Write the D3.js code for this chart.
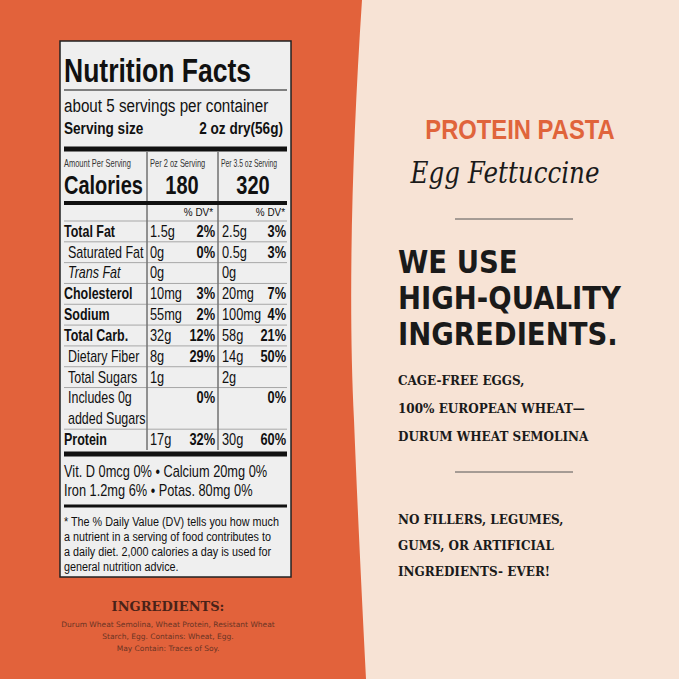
<!DOCTYPE html><html><head><meta charset="utf-8"><script src="https://cdn.jsdelivr.net/npm/d3@7"></script>
<style>body{margin:0}svg{display:block}</style></head><body><svg width="679" height="679"></svg><script>
const nutrients=["Total Fat","Saturated Fat","Trans Fat","Cholesterol","Sodium","Total Carb.","Dietary Fiber","Total Sugars","Includes 0g","added Sugars","Protein"];
const bold=[1,0,0,1,1,1,0,0,0,0,1];
const indent=[0,1,1,0,0,0,1,1,1,1,0];
const amt2=["1.5g","0g","0g","10mg","55mg","32g","8g","1g","","","17g"];
const dv2=["2%","0%","","3%","2%","12%","29%","","0%","","32%"];
const amt35=["2.5g","0.5g","0g","20mg","100mg","58g","14g","2g","","","30g"];
const dv35=["3%","3%","","7%","4%","21%","50%","","0%","","60%"];
const calories=[180,320];
const footRows=["Vit. D 0mcg 0% • Calcium 20mg 0%","Iron 1.2mg 6%   •   Potas. 80mg 0%"];
const note=["* The % Daily Value (DV) tells you how much","a nutrient in a serving of food contributes to","a daily diet. 2,000 calories a day is used for","general nutrition advice."];
const claims=["WE USE","HIGH-QUALITY","INGREDIENTS."];
const sub1=["CAGE-FREE EGGS,","100% EUROPEAN WHEAT—","DURUM WHEAT SEMOLINA"];
const sub2=["NO FILLERS, LEGUMES,","GUMS, OR ARTIFICIAL","INGREDIENTS- EVER!"];
const svg=d3.select("svg");
svg.append("rect").attr("width",679).attr("height",679).attr("fill","#f7e3d5");
svg.append("path").attr("d","M0,0 L362,0 C352,150 348,300 354,420 C358,520 362,600 366,679 L0,679Z").attr("fill","#e2623b");
const N="'Liberation Sans',sans-serif";
svg.append("rect").attr("x",60).attr("y",41).attr("width",231).attr("height",536).attr("fill","#efefef").attr("stroke","#222").attr("stroke-width",1.5);
const t=(x,y,s,txt,o={})=>{const e=svg.append("text").attr("font-family",o.f||N).attr("font-size",s).attr("font-weight",o.w||"normal").attr("font-style",o.i||"normal").attr("text-anchor",o.a||"start").attr("fill",o.c||"#111").text(txt);
 const sx=o.sx||(o.f?1:0.8);e.attr("transform",`translate(${x},${y}) scale(${sx},1)`);return e;};
const hl=(y,w,x1=64,x2=287,c="#111")=>svg.append("line").attr("x1",x1).attr("x2",x2).attr("y1",y).attr("y2",y).attr("stroke",c).attr("stroke-width",w);
t(64,82,34,"Nutrition Facts",{w:"bold",sx:0.78});
hl(90,1);
t(64,112,19,"about 5 servings per container");
t(64,134,17,"Serving size",{w:"bold"});
t(283,134,17,"2 oz dry(56g)",{w:"bold",a:"end"});
hl(149,5);
const y=d3.scaleBand().domain(d3.range(nutrients.length)).range([221,450]);
svg.append("line").attr("x1",147).attr("x2",147).attr("y1",152).attr("y2",450).attr("stroke","#333");
svg.append("line").attr("x1",218).attr("x2",218).attr("y1",152).attr("y2",450).attr("stroke","#333");
t(64,167,11,"Amount Per Serving",{c:"#333",sx:0.68});t(150,167,11,"Per 2 oz Serving",{c:"#333",sx:0.68});t(221,167,11,"Per 3.5 oz Serving",{c:"#333",sx:0.62});
t(64,194,25,"Calories",{w:"bold"});
calories.forEach((c,i)=>t(i?253:182,194,25,c,{w:"bold",a:"middle"}));
hl(203,4);
t(213,216,11,"% DV*",{a:"end",sx:0.9});t(285,216,11,"% DV*",{a:"end",sx:0.9});
hl(221,0.6,64,287,"#777");
nutrients.forEach((n,i)=>{const yb=y(i)+y.bandwidth()-5;
 t(64+indent[i]*4,yb,16,n,{w:bold[i]?"bold":"normal",i:i==2?"italic":"normal",sx:0.78});
 t(150,yb,16,amt2[i]);t(215,yb,16,dv2[i],{w:"bold",a:"end"});
 t(222,yb,16,amt35[i]);t(286,yb,16,dv35[i],{w:"bold",a:"end"});
 if(i<10&&i!=8)hl(y(i)+y.bandwidth(),0.6,64,287,"#777");});
hl(454,5);
footRows.forEach((r,i)=>t(64,477+i*19,16,r,{sx:0.8}));
hl(506,3);
note.forEach((r,i)=>t(64,526+i*15,13.5,r,{sx:0.8}));
t(168,611,13,"INGREDIENTS:",{f:"'DejaVu Serif',serif",w:"bold",a:"middle",c:"#4a2218"});
t(168,627,7.5,"Durum Wheat Semolina, Wheat Protein, Resistant Wheat",{f:"'DejaVu Sans',sans-serif",a:"middle",c:"#6a3424"});
t(168,639,7.5,"Starch, Egg. Contains: Wheat, Egg.",{f:"'DejaVu Sans',sans-serif",a:"middle",c:"#6a3424"});
t(168,651,7.5,"May Contain: Traces of Soy.",{f:"'DejaVu Sans',sans-serif",a:"middle",c:"#6a3424"});
t(520,139,28,"PROTEIN PASTA",{f:"'Liberation Sans',sans-serif",w:"bold",a:"middle",c:"#e0643b",sx:0.85});
t(505,183,30,"Egg Fettuccine",{f:"'DejaVu Serif',serif",i:"italic",a:"middle",c:"#1a1a1a",sx:0.82});
hl(219,1,455,573,"#555");
claims.forEach((c,i)=>t(398,273+i*36,32,c,{f:"'DejaVu Sans',sans-serif",w:"900",c:"#1a1a1a",sx:0.86}));
sub1.forEach((c,i)=>t(398,385+i*28,12,c,{f:"'DejaVu Serif',serif",w:"bold",c:"#1a1a1a"}));
hl(472,1,455,573,"#555");
sub2.forEach((c,i)=>t(398,524+i*26,12,c,{f:"'DejaVu Serif',serif",w:"bold",c:"#1a1a1a"}));
</script></body></html>
